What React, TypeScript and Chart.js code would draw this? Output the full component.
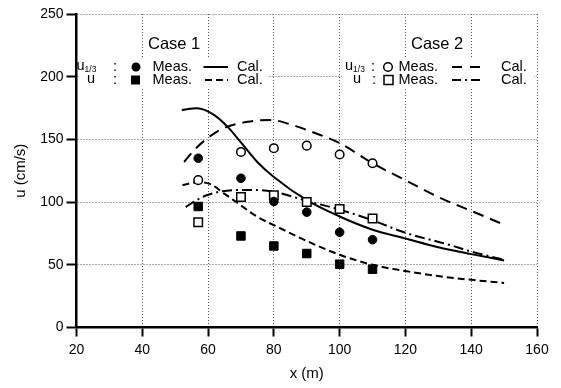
import React, { useEffect, useRef } from "react";
import { Chart, registerables } from "chart.js";
Chart.register(...registerables);

const FONT = '"Liberation Sans", Arial, Helvetica, sans-serif';

// Measurements (x in m)
const measX = [57, 70, 80, 90, 100, 110];
const case1U13Meas = [135, 119, 100.5, 92, 76, 70];
const case1UMeas = [96.5, 73, 65, 59, 50.5, 46.5];
const case2U13Meas = [117.5, 140, 143, 145, 138, 131];
const case2UMeas = [84, 104, 105.5, 100, 94.5, 87];

// Calculations
const case1U13CalX = [52, 56.7, 61.8, 66.3, 69.8, 74.9, 80, 90, 100, 110, 120, 130, 140, 150];
const case1U13CalY = [173.4, 174.8, 169.5, 159, 148.2, 132.2, 120, 101.5, 88.5, 78, 71, 64, 58.5, 53.5];

const case1UCalX = [52.2, 56.7, 60.8, 64.8, 69.8, 74.9, 82, 90, 100, 110, 120, 130, 140, 150];
const case1UCalY = [113.6, 115.8, 114.2, 107, 97.7, 88.4, 79.1, 69, 58, 50, 45, 41, 38, 35.5];

const case2U13CalX = [52.7, 56, 59.8, 64.8, 72, 79, 85, 90, 100, 110, 120, 130, 140, 150];
const case2U13CalY = [132, 142, 151, 159, 164, 165.5, 162, 157.5, 147, 131, 117.5, 104, 93, 82];

const case2UCalX = [53.2, 55.7, 59.8, 68.8, 74.9, 80, 90, 100, 110, 120, 133.5, 140, 150];
const case2UCalY = [96, 100.3, 105.7, 109.6, 109.6, 108.3, 101, 94, 85.5, 75.5, 65.8, 60.5, 54];

const xMin = 20, xMax = 160, xStep = 20;
const yMin = 0, yMax = 250, yStep = 50;

const toPts = (xs: number[], ys: number[]) => xs.map((x, i) => ({ x, y: ys[i] }));

const DASH_C1U = [7, 4];
const DASH_C2U13 = [11, 7];
const DASH_C2U = [10, 4, 2, 4];

const overlayPlugin = {
  id: "overlay",
  afterDraw(chart: any) {
    const ctx = chart.ctx as CanvasRenderingContext2D;
    const area = chart.chartArea;
    ctx.save();
    // white boxes behind legend rows
    ctx.fillStyle = "#fff";
    ctx.fillRect(area.left + 2, 57, 266 - area.left, 31);
    ctx.fillRect(342, 57, 192, 31);

    ctx.fillStyle = "#000";
    ctx.strokeStyle = "#000";
    ctx.textBaseline = "middle";

    // Case titles
    ctx.font = `16.5px ${FONT}`;
    ctx.textAlign = "left";
    ctx.fillText("Case 1", 148, 44);
    ctx.fillText("Case 2", 411, 44);

    const r1 = 67, r2 = 80;
    const rowFont = `14.5px ${FONT}`;
    const subFont = `8.5px ${FONT}`;

    const u13 = (x: number, y: number) => {
      ctx.font = rowFont;
      ctx.textAlign = "left";
      ctx.fillText("u", x, y - 1);
      const w = ctx.measureText("u").width;
      ctx.font = subFont;
      ctx.fillText("1/3", x + w, y + 3);
    };
    const txt = (s: string, x: number, y: number, align: CanvasTextAlign = "left") => {
      ctx.font = rowFont;
      ctx.textAlign = align;
      ctx.fillText(s, x, y);
    };
    const seg = (x1: number, x2: number, y: number, dash: number[]) => {
      ctx.save();
      ctx.lineWidth = 2;
      ctx.setLineDash(dash);
      ctx.beginPath();
      ctx.moveTo(x1, y);
      ctx.lineTo(x2, y);
      ctx.stroke();
      ctx.restore();
    };

    // Block 1
    u13(76.5, r1);
    txt(":", 115, r1, "center");
    ctx.beginPath();
    ctx.arc(136, r1, 4.5, 0, Math.PI * 2);
    ctx.fill();
    txt("Meas.", 152.5, r1);
    seg(203.5, 228, r1, []);
    txt("Cal.", 237, r1);

    txt("u", 91, r2 - 1, "center");
    txt(":", 115, r2, "center");
    ctx.fillRect(131, r2 - 4.5, 9, 9);
    txt("Meas.", 152.5, r2);
    seg(205, 228, r2, DASH_C1U);
    txt("Cal.", 237, r2);

    // Block 2
    u13(345, r1);
    txt(":", 373, r1, "center");
    ctx.save();
    ctx.lineWidth = 1.5;
    ctx.beginPath();
    ctx.arc(388, r1, 4.3, 0, Math.PI * 2);
    ctx.stroke();
    ctx.restore();
    txt("Meas.", 398.5, r1);
    seg(452, 481, r1, [10, 8]);
    txt("Cal.", 501, r1);

    txt("u", 357, r2 - 1, "center");
    txt(":", 374, r2, "center");
    ctx.save();
    ctx.lineWidth = 1.5;
    ctx.strokeRect(384, r2 - 4.5, 9, 9);
    ctx.restore();
    txt("Meas.", 398.5, r2);
    seg(452, 481, r2, [9, 4, 2, 4]);
    txt("Cal.", 501, r2);

    // Axis titles
    ctx.font = `15px ${FONT}`;
    ctx.textAlign = "center";
    ctx.fillText("x (m)", (area.left + area.right) / 2, 374);
    ctx.save();
    ctx.translate(21, (area.top + area.bottom) / 2);
    ctx.rotate(-Math.PI / 2);
    ctx.fillText("u (cm/s)", 0, 0);
    ctx.restore();

    ctx.restore();
  },
};

export default function App() {
  const ref = useRef<HTMLCanvasElement | null>(null);
  useEffect(() => {
    if (!ref.current) return;
    const pointDs = (data: number[], style: string, filled: boolean, radius: number) => ({
      data: toPts(measX, data),
      showLine: false,
      pointStyle: style,
      pointRadius: radius,
      pointBackgroundColor: filled ? "#000" : "#fff",
      pointBorderColor: "#000",
      pointBorderWidth: filled ? 1 : 1.5,
    });
    const lineDs = (xs: number[], ys: number[], dash: number[]) => ({
      data: toPts(xs, ys),
      showLine: true,
      pointRadius: 0,
      borderColor: "#000",
      borderWidth: 2,
      borderDash: dash,
      cubicInterpolationMode: "monotone",
      fill: false,
    });
    const chart = new Chart(ref.current, {
      type: "scatter",
      data: {
        datasets: [
          pointDs(case1U13Meas, "circle", true, 4.3),
          pointDs(case1UMeas, "rect", true, 6),
          pointDs(case2U13Meas, "circle", false, 4.3),
          pointDs(case2UMeas, "rect", false, 6),
          lineDs(case1U13CalX, case1U13CalY, []),
          lineDs(case1UCalX, case1UCalY, DASH_C1U),
          lineDs(case2U13CalX, case2U13CalY, DASH_C2U13),
          lineDs(case2UCalX, case2UCalY, DASH_C2U),
        ] as any,
      },
      options: {
        animation: false,
        responsive: false,
        devicePixelRatio: 1,
        layout: { padding: { top: 14, right: 24, left: 0, bottom: 0 } },
        plugins: { legend: { display: false }, tooltip: { enabled: false } },
        scales: {
          x: {
            type: "linear",
            min: xMin,
            max: xMax,
            ticks: { stepSize: xStep, color: "#000", font: { family: FONT, size: 14 }, padding: 5, maxRotation: 0, autoSkip: false },
            grid: { color: "#555", lineWidth: 1, tickLength: 9, tickColor: "#000", tickWidth: 2 },
            border: { display: true, color: "#000", width: 2.5, dash: [1, 2] },
            afterFit: (s: any) => { s.height = 60.5; },
          },
          y: {
            type: "linear",
            min: yMin,
            max: yMax,
            ticks: { stepSize: yStep, color: "#000", font: { family: FONT, size: 14 }, padding: 3 },
            grid: { color: "#555", lineWidth: 1, tickLength: 10, tickColor: "#000", tickWidth: 2 },
            border: { display: true, color: "#000", width: 2.5, dash: [1, 2] },
            afterFit: (s: any) => { s.width = 76.5; },
          },
        },
      } as any,
      plugins: [overlayPlugin],
    });
    return () => chart.destroy();
  }, []);
  return (
    <div style={{ position: "fixed", left: 0, top: 0, width: 561, height: 388, background: "#fff" }}>
      <canvas ref={ref} width={561} height={388} style={{ width: 561, height: 388, display: "block" }} />
    </div>
  );
}
